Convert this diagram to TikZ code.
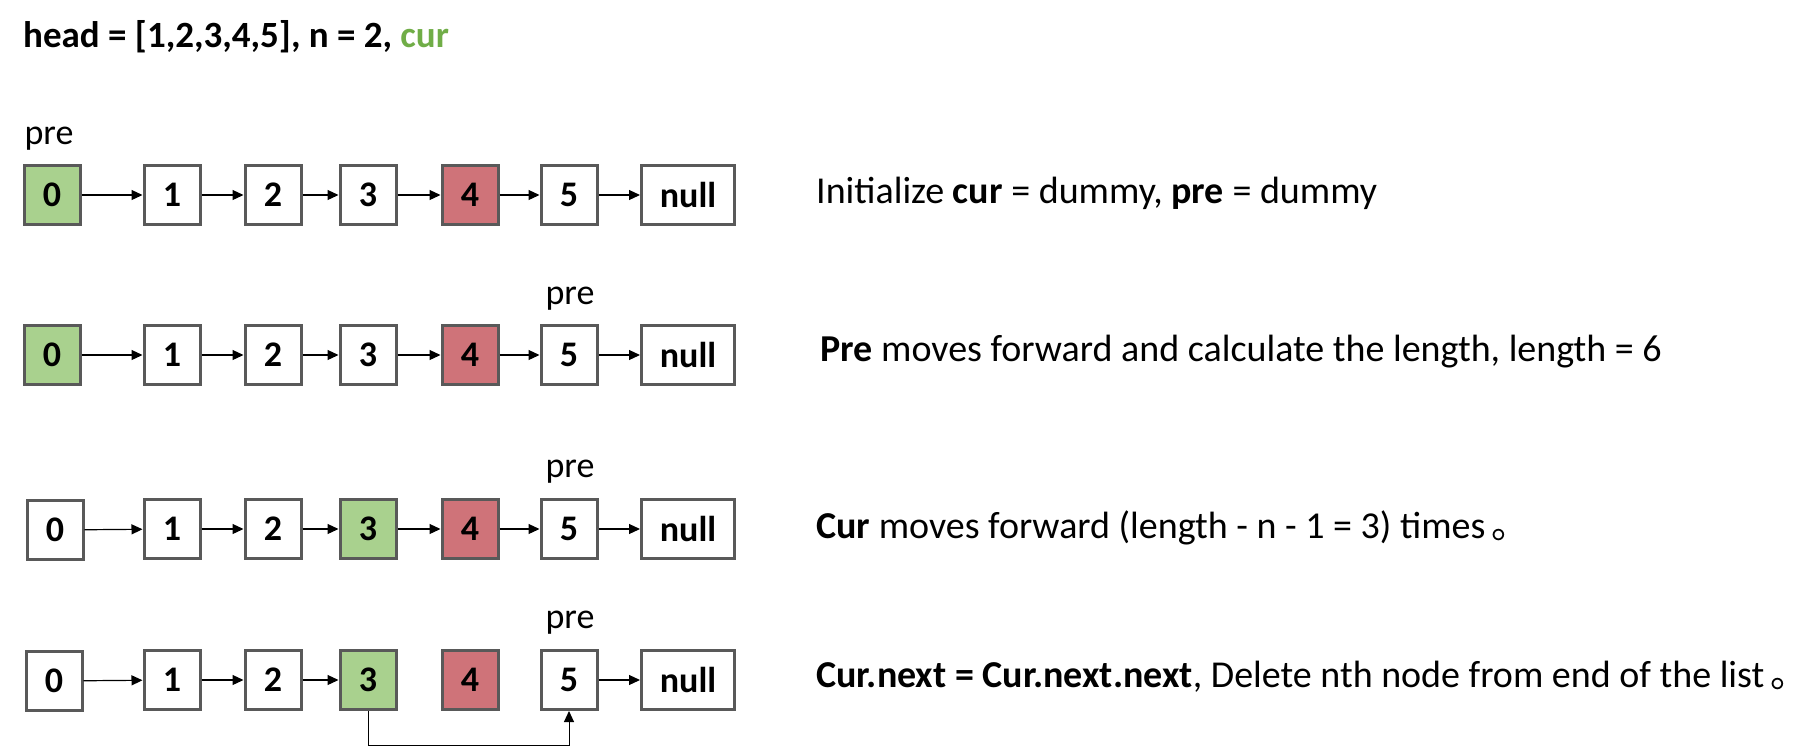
\documentclass[tikz,border=0pt]{standalone}
\usepackage{fontspec}
\setmainfont{Carlito}
\newfontfamily\cjk{Noto Sans CJK SC}
\usetikzlibrary{arrows.meta}
\definecolor{boxgreen}{HTML}{A9D18E}
\definecolor{boxred}{HTML}{CF7379}
\definecolor{boxline}{HTML}{595959}
\definecolor{curgreen}{HTML}{70AD47}
\begin{document}
\begin{tikzpicture}[x=1pt,y=-1pt,
  cell/.style={draw=boxline, line width=3pt, minimum width=56pt, minimum height=59pt, inner sep=0pt, font=\fontsize{36}{42}\selectfont\bfseries},
  nullcell/.style={cell, minimum width=93pt},
  gcell/.style={cell, fill=boxgreen},
  rcell/.style={cell, fill=boxred},
  link/.style={-{Triangle[length=11pt,width=10pt]}, line width=1.2pt},
  lbl/.style={font=\fontsize{36}{42}\selectfont, inner sep=0pt},
  desc/.style={font=\fontsize{38}{44}\selectfont, anchor=west, inner sep=0pt}]
\useasboundingbox (0,0) rectangle (1816,748);
\node[anchor=west, inner sep=0pt, font=\fontsize{37}{44}\selectfont\bfseries] (title) at (23,37) {head = [1,2,3,4,5], n = 2, \textcolor{curgreen}{cur}};
% row 1
\node[gcell] (r1a) at (52,195) {0};
\node[cell] (r1b) at (172,195) {1};
\node[cell] (r1c) at (273,195) {2};
\node[cell] (r1d) at (368,195) {3};
\node[rcell] (r1e) at (470,195) {4};
\node[cell] (r1f) at (569,195) {5};
\node[nullcell] (r1g) at (688,195) {null};
\node[lbl] (p1) at (49,139) {pre};
% row 2
\node[gcell] (r2a) at (52,355) {0};
\node[cell] (r2b) at (172,355) {1};
\node[cell] (r2c) at (273,355) {2};
\node[cell] (r2d) at (368,355) {3};
\node[rcell] (r2e) at (470,355) {4};
\node[cell] (r2f) at (569,355) {5};
\node[nullcell] (r2g) at (688,355) {null};
\node[lbl] (p2) at (570,299) {pre};
% row 3
\node[cell] (r3a) at (55,530) {0};
\node[cell] (r3b) at (172,529) {1};
\node[cell] (r3c) at (273,529) {2};
\node[gcell] (r3d) at (368,529) {3};
\node[rcell] (r3e) at (470,529) {4};
\node[cell] (r3f) at (569,529) {5};
\node[nullcell] (r3g) at (688,529) {null};
\node[lbl] (p3) at (570,472) {pre};
% row 4
\node[cell] (r4a) at (54,681) {0};
\node[cell] (r4b) at (172,680) {1};
\node[cell] (r4c) at (273,680) {2};
\node[gcell] (r4d) at (368,680) {3};
\node[rcell] (r4e) at (470,680) {4};
\node[cell] (r4f) at (569,680) {5};
\node[nullcell] (r4g) at (688,680) {null};
\node[lbl] (p4) at (570,623) {pre};
% links
\foreach \r in {1,2,3}{
  \draw[link] (r\r a) -- (r\r b);
  \draw[link] (r\r b) -- (r\r c);
  \draw[link] (r\r c) -- (r\r d);
  \draw[link] (r\r d) -- (r\r e);
  \draw[link] (r\r e) -- (r\r f);
  \draw[link] (r\r f) -- (r\r g);
}
\draw[link] (r4a) -- (r4b);
\draw[link] (r4b) -- (r4c);
\draw[link] (r4c) -- (r4d);
\draw[link] (r4f) -- (r4g);
\coordinate (turn) at (368,745);
\draw[link, line width=1pt] (r4d.south) -- (turn) -| (r4f.south);
% descriptions
\node[desc] (d1) at (816,193) {Initialize \textbf{cur} = dummy, \textbf{pre} = dummy};
\node[desc] (d2) at (820,352) {\textbf{Pre} moves forward and calculate the length, length = 6};
\node[desc] (d3) at (816,528) {\textbf{Cur} moves forward (length - n - 1 = 3) times\,{\cjk 。}};
\node[desc] (d4) at (816,677) {\textbf{Cur.next = Cur.next.next}, Delete nth node from end of the list\,{\cjk 。}};
\end{tikzpicture}
\end{document}
